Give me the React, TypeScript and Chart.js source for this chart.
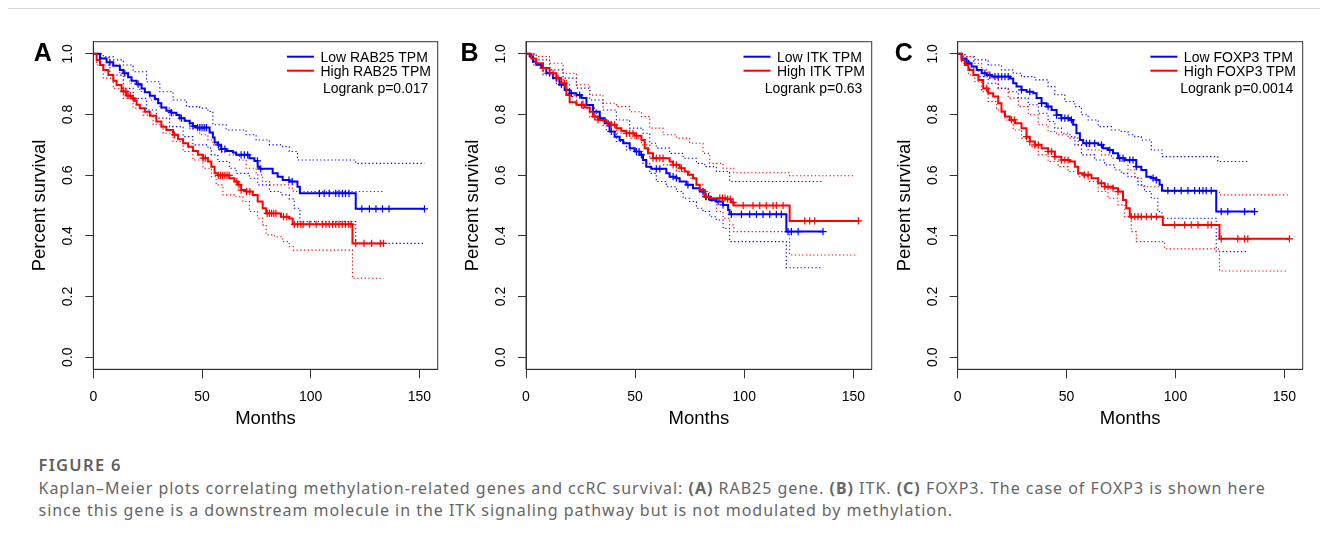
import React, { useEffect, useRef } from "react";
import { Chart, registerables } from "chart.js";
Chart.register(...registerables);

const FONT = "'Liberation Sans', Arial, Helvetica, sans-serif";
const BLUE = "#0000ff";
const RED = "#ff0000";

const X_TICKS = [0, 50, 100, 150];
const Y_TICKS = [0, 0.2, 0.4, 0.6, 0.8, 1.0];
const X_MIN = 0;
const X_MAX = 158.4;
const Y_MIN = -0.04;
const Y_MAX = 1.04;

// ---------- Panel A : RAB25 ----------
const A_LABELS = ["Low RAB25 TPM", "High RAB25 TPM"];
const A_PVALUE = "Logrank p=0.017";
const A_LOW = [[0,1],[3.07,0.985],[6.13,0.972],[9.18,0.961],[12.2,0.947],[13.8,0.936],[16,0.923],[17.6,0.911],[19.9,0.9],[22.2,0.886],[23.7,0.873],[26,0.862],[28.3,0.851],[29.8,0.837],[31.3,0.823],[33.6,0.812],[35.9,0.806],[38.2,0.798],[39.7,0.788],[42,0.779],[44.3,0.771],[45.8,0.762],[47.4,0.757],[53.5,0.741],[55,0.724],[55.8,0.708],[57.3,0.7],[58.8,0.686],[61.1,0.68],[64.2,0.675],[65.7,0.667],[71.8,0.656],[74.1,0.647],[75.6,0.628],[76.4,0.621],[82.5,0.606],[84.8,0.595],[87.1,0.584],[90.1,0.579],[93.9,0.562],[95,0.54],[120.7,0.489],[152.3,0.489]];
const A_LOW_UP = [[0,1],[4.6,0.99],[9.2,0.98],[13.8,0.963],[18.3,0.941],[24.5,0.908],[30.6,0.875],[36.7,0.848],[42.8,0.826],[48.9,0.821],[52.7,0.81],[55,0.766],[61.1,0.749],[70.3,0.733],[74.9,0.716],[81,0.7],[87.1,0.694],[90.1,0.678],[93.9,0.65],[120.7,0.639],[152.3,0.639]];
const A_LOW_LO = [[0,1],[3.07,0.963],[7.6,0.93],[13.8,0.886],[18.3,0.853],[24.5,0.815],[29,0.788],[35.1,0.76],[41.3,0.727],[45.8,0.7],[52.7,0.689],[54.3,0.667],[57.3,0.645],[62.6,0.623],[65.7,0.606],[71.8,0.59],[75.6,0.568],[81,0.546],[86.3,0.535],[90.1,0.522],[92.4,0.491],[95,0.447],[120.7,0.375],[152.3,0.375]];
const A_LOW_CENS = [7.6,14.5,20.6,35.9,40.5,45.8,48,49,50,51,52,57.5,59,60.5,68,69.5,71,75.5,77,90,91.5,104,106.2,108.5,111.5,113,114.6,116,117.6,123.5,127,130,133,136,152.3];
const A_HIGH = [[0,1],[1.54,0.98],[3.07,0.963],[4.6,0.947],[6.9,0.93],[9.18,0.911],[10.7,0.897],[13,0.876],[15.3,0.862],[17.6,0.853],[19.1,0.845],[19.9,0.832],[21.4,0.821],[23.7,0.809],[26,0.796],[29,0.777],[31.3,0.76],[33.6,0.749],[36.7,0.733],[39,0.718],[41.3,0.705],[43.6,0.694],[45.8,0.68],[48.1,0.667],[50.4,0.656],[52.7,0.645],[54.3,0.628],[55.8,0.606],[57.3,0.599],[62.6,0.59],[64.9,0.579],[66.5,0.568],[68,0.551],[70.3,0.546],[73.3,0.535],[75.6,0.513],[77.9,0.491],[79.5,0.474],[86.3,0.463],[90.1,0.457],[91.7,0.438],[119.2,0.375],[133.5,0.375]];
const A_HIGH_UP = [[0,1],[3.07,0.988],[7.65,0.963],[12.2,0.93],[16.8,0.903],[21.4,0.876],[26,0.848],[30.6,0.821],[35.1,0.798],[39.7,0.777],[44.3,0.755],[48.9,0.733],[52.7,0.716],[55,0.7],[58.1,0.678],[62.6,0.667],[67.2,0.65],[70.3,0.623],[74.9,0.601],[77.9,0.579],[81,0.568],[90.1,0.557],[92,0.546],[133.5,0.546]];
const A_HIGH_LO = [[0,1],[1.54,0.963],[4.6,0.92],[9.18,0.886],[13.8,0.853],[18.3,0.821],[22.9,0.798],[27.5,0.766],[32.1,0.738],[36.7,0.711],[41.3,0.678],[45.8,0.65],[50.4,0.623],[54.3,0.595],[56.5,0.568],[59.6,0.535],[65.7,0.529],[68.8,0.513],[71.8,0.48],[75.6,0.458],[77.9,0.436],[79.5,0.403],[83.3,0.397],[87.1,0.381],[90.1,0.364],[92,0.353],[119.2,0.26],[133.5,0.26]];
const A_HIGH_CENS = [14,15,16,17,18.4,37.4,50.5,51.5,57.5,58.5,59.5,60.5,61.5,62.5,66,67,68,70.5,72,80,81,82,83,84,87.5,89,92.5,94,95.5,96.5,99.5,102.5,105.5,107,108.5,110,111.5,113,114.5,116,117.5,118.5,120.7,124.5,128,132,133.5];

// ---------- Panel B : ITK ----------
const B_LABELS = ["Low ITK TPM", "High ITK TPM"];
const B_PVALUE = "Logrank p=0.63";
const B_LOW = [[0,1],[1.68,0.991],[3.2,0.975],[4.7,0.964],[7,0.953],[9.3,0.936],[12.4,0.92],[15.4,0.898],[17.7,0.881],[20,0.87],[23.1,0.864],[25.4,0.854],[27.7,0.831],[30.7,0.809],[33.8,0.788],[36.1,0.771],[38.3,0.744],[40.6,0.727],[42.9,0.716],[44.5,0.705],[47.5,0.689],[49.8,0.678],[52.1,0.667],[53.6,0.65],[55.1,0.628],[57.4,0.621],[64.3,0.606],[65.8,0.595],[68.9,0.59],[70.4,0.579],[73.5,0.568],[76.5,0.557],[79.6,0.546],[81.9,0.529],[84.2,0.518],[87.2,0.513],[90.3,0.502],[92.6,0.485],[93.3,0.471],[119.3,0.414],[136.1,0.414]];
const B_LOW_UP = [[0,1],[4.7,0.98],[10.8,0.947],[17,0.92],[23.1,0.887],[29.2,0.848],[35.3,0.815],[41.4,0.782],[47.5,0.755],[53.6,0.738],[56.7,0.705],[59.7,0.689],[65.8,0.672],[72,0.656],[78.1,0.639],[81.9,0.628],[87.2,0.612],[93.3,0.579],[136.1,0.579]];
const B_LOW_LO = [[0,1],[3.2,0.963],[7.8,0.93],[13.9,0.898],[20,0.859],[26.1,0.821],[32.2,0.782],[36.8,0.744],[41.4,0.711],[46,0.683],[50.6,0.667],[53.6,0.639],[56.7,0.606],[59.7,0.579],[64.3,0.562],[68.9,0.546],[72,0.524],[75,0.513],[78.1,0.491],[81.1,0.48],[84.2,0.463],[87.2,0.452],[90.3,0.425],[93.3,0.381],[119.3,0.295],[136.1,0.295]];
const B_LOW_CENS = [10.8,13.9,16.2,20.8,24.6,37.6,39.1,50.6,51.8,52.9,59.7,61.3,67.4,68.9,74.2,81.1,82.3,83.6,88,90.3,94.1,98.7,102.5,105.6,108.6,111.7,114.7,117,120.1,121.6,124.7,136.1];
const B_HIGH = [[0,1],[2.4,0.985],[4.7,0.969],[7.8,0.953],[10.8,0.936],[13.9,0.92],[16.2,0.903],[18.5,0.864],[20,0.84],[23.1,0.832],[26.9,0.823],[29.2,0.809],[30.7,0.793],[33,0.782],[36.8,0.774],[39.1,0.766],[41.4,0.755],[43.7,0.746],[46,0.738],[49.8,0.73],[52.9,0.716],[54.4,0.689],[55.9,0.672],[58.2,0.656],[65.8,0.645],[67.4,0.634],[70.4,0.623],[72.7,0.612],[74.2,0.601],[76.5,0.59],[78.1,0.568],[79.6,0.551],[81.9,0.529],[84.2,0.524],[91.8,0.521],[94.1,0.51],[95.2,0.5],[120.8,0.449],[152.3,0.449]];
const B_HIGH_UP = [[0,1],[4.7,0.991],[10.8,0.969],[17,0.936],[23.1,0.898],[29.2,0.864],[35.3,0.837],[41.4,0.826],[47.5,0.809],[52.9,0.793],[56.7,0.755],[62.8,0.733],[68.9,0.722],[75,0.705],[81.1,0.672],[84.2,0.639],[90.3,0.623],[95.2,0.608],[120.8,0.598],[151,0.598]];
const B_HIGH_LO = [[0,1],[3.2,0.969],[7.8,0.936],[12.4,0.914],[18.5,0.864],[23.1,0.831],[29.2,0.793],[35.3,0.765],[41.4,0.738],[47.5,0.722],[52.9,0.7],[56.7,0.656],[62.8,0.634],[68.9,0.612],[75,0.59],[78.1,0.568],[81.1,0.546],[84.2,0.513],[87.2,0.48],[90.3,0.458],[93.3,0.436],[95.2,0.414],[120.8,0.337],[151,0.337]];
const B_HIGH_CENS = [7.8,12.4,14.7,17.7,25.4,26.1,31.5,33,39.1,40.6,46,47.5,49,50.6,58.2,59.7,61.3,62.8,67.4,68.9,71.2,82.6,88.8,90,91.2,92.4,93.6,94.9,99.5,104,107.1,110.1,113.2,114.7,117.8,127.7,130,132.3,152.3];

// ---------- Panel C : FOXP3 ----------
const C_LABELS = ["Low FOXP3 TPM", "High FOXP3 TPM"];
const C_PVALUE = "Logrank p=0.0014";
const C_LOW = [[0,1],[1.8,0.985],[4.1,0.969],[6.4,0.958],[8.7,0.947],[11,0.936],[13.3,0.93],[15.6,0.925],[24,0.919],[25.5,0.903],[27,0.892],[29.3,0.881],[31.6,0.875],[34.7,0.87],[36.2,0.854],[38.5,0.837],[40.8,0.826],[43.1,0.815],[45.4,0.798],[47.6,0.788],[51.5,0.782],[53,0.766],[54.5,0.738],[56.1,0.716],[57.6,0.705],[64.5,0.7],[66.7,0.689],[69,0.683],[71.3,0.672],[73.6,0.656],[76.7,0.65],[82,0.628],[84.3,0.617],[86.6,0.595],[88.9,0.59],[91.2,0.584],[92.7,0.568],[93.8,0.549],[118.7,0.48],[136.3,0.48]];
const C_LOW_UP = [[0,1],[3.3,0.991],[7.9,0.98],[14,0.963],[20.1,0.947],[25.5,0.936],[29.3,0.925],[35.4,0.914],[41.5,0.892],[44.6,0.865],[49.2,0.843],[53.8,0.826],[56.8,0.799],[59.9,0.782],[64.5,0.76],[70.6,0.749],[75.1,0.744],[78.2,0.733],[81.3,0.727],[84.3,0.716],[88.9,0.683],[93.8,0.661],[119.4,0.645],[133.3,0.645]];
const C_LOW_LO = [[0,1],[2.6,0.975],[5.6,0.953],[9.5,0.925],[14,0.903],[18.6,0.886],[23.2,0.875],[27.8,0.854],[32.4,0.832],[37,0.804],[41.5,0.777],[44.6,0.755],[47.6,0.738],[51.5,0.727],[53.8,0.7],[56.8,0.667],[62.9,0.65],[67.5,0.634],[72.1,0.617],[75.1,0.606],[78.2,0.595],[82.8,0.568],[85.8,0.546],[88.9,0.524],[91.9,0.48],[93.8,0.458],[118.7,0.348],[133.3,0.348]];
const C_LOW_CENS = [4.9,12.5,14.8,17.1,18.6,20.2,21.7,23.2,29.3,33.1,38.5,41.5,45.4,47.6,49.2,50.7,52.2,59.1,60.6,62.9,66,69.8,74.4,75.9,79,80.5,82,89.7,91.2,96.5,99.6,102.6,105.7,108.8,111,112.6,114.1,116.4,121,124,131.7,136.3];
const C_HIGH = [[0,1],[1.8,0.98],[3.3,0.963],[4.9,0.947],[7.2,0.93],[9.5,0.914],[11.7,0.886],[14,0.87],[16.3,0.859],[18.6,0.837],[20.1,0.809],[21.7,0.793],[23.9,0.782],[26.3,0.771],[29.3,0.755],[31.6,0.727],[33.1,0.711],[35.4,0.7],[38.5,0.689],[41.5,0.678],[44.6,0.661],[47.6,0.65],[51.5,0.645],[53.8,0.628],[55.3,0.606],[57.6,0.601],[61.4,0.59],[64.5,0.573],[67.5,0.562],[71.3,0.557],[73.6,0.546],[75.9,0.518],[77.4,0.491],[79,0.463],[94.2,0.436],[120.2,0.39],[152.3,0.39]];
const C_HIGH_UP = [[0,1],[3.3,0.991],[7.2,0.969],[11,0.947],[14,0.92],[18.6,0.887],[23.2,0.854],[27.8,0.826],[32.4,0.799],[37,0.766],[41.5,0.744],[45.4,0.733],[50.7,0.722],[55.3,0.7],[59.9,0.683],[66,0.667],[70.6,0.656],[75.1,0.645],[78.2,0.617],[81.3,0.59],[84.3,0.562],[94.2,0.546],[120.2,0.535],[151.5,0.535]];
const C_HIGH_LO = [[0,1],[1.8,0.969],[4.9,0.93],[7.9,0.908],[11,0.875],[14,0.843],[17.9,0.815],[21.7,0.782],[25.5,0.749],[29.3,0.722],[33.1,0.694],[37,0.667],[41.5,0.645],[46.1,0.628],[50.7,0.612],[55.3,0.595],[59.9,0.579],[64.5,0.546],[69,0.524],[73.6,0.502],[76.7,0.463],[79.7,0.414],[82,0.381],[95,0.357],[120.2,0.284],[151.5,0.284]];
const C_HIGH_CENS = [13.3,24.7,26,31.6,33.1,35.4,37,41.5,43.1,44.6,47.6,49.2,50.7,58.3,59.9,66,67.5,69,71.3,73.6,79.7,81.3,82.8,84.3,86.6,88.9,91.2,99.6,104.2,107.2,110.3,114.9,116.4,121,128.6,131.7,133.2,152.3];

// ---------- layout (page pixels) ----------
const PANELS = [
  { letter: "A", chartLeft: 93.3, chartRight: 437.7, letterX: 42.8, labels: A_LABELS, pvalue: A_PVALUE,
    low: A_LOW, lowUp: A_LOW_UP, lowLo: A_LOW_LO, lowCens: A_LOW_CENS,
    high: A_HIGH, highUp: A_HIGH_UP, highLo: A_HIGH_LO, highCens: A_HIGH_CENS },
  { letter: "B", chartLeft: 526, chartRight: 871.7, letterX: 469.5, labels: B_LABELS, pvalue: B_PVALUE,
    low: B_LOW, lowUp: B_LOW_UP, lowLo: B_LOW_LO, lowCens: B_LOW_CENS,
    high: B_HIGH, highUp: B_HIGH_UP, highLo: B_HIGH_LO, highCens: B_HIGH_CENS },
  { letter: "C", chartLeft: 957.7, chartRight: 1302.7, letterX: 903.8, labels: C_LABELS, pvalue: C_PVALUE,
    low: C_LOW, lowUp: C_LOW_UP, lowLo: C_LOW_LO, lowCens: C_LOW_CENS,
    high: C_HIGH, highUp: C_HIGH_UP, highLo: C_HIGH_LO, highCens: C_HIGH_CENS },
];

const CANVAS_TOP = 10;
const CANVAS_W = 430;
const CANVAS_H = 420;
const CHART_TOP = 41.7;
const CHART_BOTTOM = 369.3;
const Y_AXIS_W = 70;

const toPts = (pairs: number[][]) => pairs.map(([x, y]) => ({ x, y }));
const survAt = (pairs: number[][], t: number) => {
  let s = pairs[0][1];
  for (const [x, y] of pairs) {
    if (x <= t + 1e-9) s = y;
    else break;
  }
  return s;
};
const censPts = (pairs: number[][], times: number[]) => times.map((t) => ({ x: t, y: survAt(pairs, t) }));

function curveDs(pairs: number[][], color: string) {
  return { data: toPts(pairs), borderColor: color, borderWidth: 2, pointRadius: 0, stepped: true, fill: false };
}
function ciDs(pairs: number[][], color: string) {
  return { data: toPts(pairs), borderColor: color, borderWidth: 1.1, borderDash: [1.3, 2.4], pointRadius: 0, stepped: true, fill: false };
}
function censDs(pairs: number[][], times: number[], color: string) {
  return { data: censPts(pairs, times), showLine: false, pointStyle: "cross", pointRadius: 3.6, pointBorderWidth: 1.2, pointBorderColor: color, pointBackgroundColor: color, borderColor: color };
}

function Panel({ p }: { p: any }) {
  const ref = useRef<HTMLCanvasElement>(null);
  const canvasLeft = Math.floor(p.chartLeft - Y_AXIS_W - 2);
  const padLeft = p.chartLeft - Y_AXIS_W - canvasLeft;
  const padRight = canvasLeft + CANVAS_W - p.chartRight;
  const padTop = CHART_TOP - CANVAS_TOP;
  const xAxisH = CANVAS_H + CANVAS_TOP - CHART_BOTTOM;

  useEffect(() => {
    if (!ref.current) return;
    const decor = {
      id: "decor" + p.letter,
      afterDraw(chart: any) {
        const { ctx, chartArea: a } = chart;
        ctx.save();
        ctx.strokeStyle = "#333";
        ctx.lineWidth = 1;
        ctx.strokeRect(a.left, a.top, a.right - a.left, a.bottom - a.top);
        // legend
        ctx.font = `14px ${FONT}`;
        const textRight = a.right - 6.8;
        const widest = Math.max(...p.labels.map((l: string) => ctx.measureText(l).width));
        const textLeft = textRight - widest;
        const colors = [BLUE, RED];
        p.labels.forEach((l: string, i: number) => {
          const cy = a.top + 15 + i * 14;
          ctx.strokeStyle = colors[i];
          ctx.lineWidth = 2;
          ctx.beginPath();
          ctx.moveTo(textLeft - 33.5, cy);
          ctx.lineTo(textLeft - 6.5, cy);
          ctx.stroke();
          ctx.fillStyle = "#000";
          ctx.textAlign = "left";
          ctx.textBaseline = "alphabetic";
          ctx.fillText(l, textLeft, cy + 5);
        });
        ctx.textAlign = "right";
        ctx.fillText(p.pvalue, textRight - 2.5, a.top + 46.6 + 5);
        // panel letter
        ctx.font = `bold 25px ${FONT}`;
        ctx.textAlign = "center";
        ctx.fillText(p.letter, p.letterX - canvasLeft, 51.7 - CANVAS_TOP + 9);
        ctx.restore();
      },
    };
    const chart = new Chart(ref.current, {
      type: "line",
      data: {
        datasets: [
          censDs(p.high, p.highCens, RED),
          curveDs(p.high, RED),
          censDs(p.low, p.lowCens, BLUE),
          curveDs(p.low, BLUE),
          ciDs(p.highUp, RED),
          ciDs(p.highLo, RED),
          ciDs(p.lowUp, BLUE),
          ciDs(p.lowLo, BLUE),
        ] as any,
      },
      options: {
        animation: false,
        responsive: false,
        events: [],
        layout: { padding: { left: padLeft, right: padRight, top: padTop, bottom: 0 } },
        plugins: { legend: { display: false }, tooltip: { enabled: false }, title: { display: false } },
        scales: {
          x: {
            type: "linear",
            min: X_MIN,
            max: X_MAX,
            afterBuildTicks: (s: any) => { s.ticks = X_TICKS.map((v) => ({ value: v })); },
            afterFit: (s: any) => { s.height = xAxisH; },
            grid: { display: true, drawOnChartArea: false, drawTicks: true, tickLength: 9, tickColor: "#333", tickWidth: 1 },
            border: { display: true, color: "#333", width: 1 },
            ticks: { font: { family: FONT, size: 14 }, color: "#000", padding: 10, maxRotation: 0, autoSkip: false, callback: (v: any) => String(v) },
            title: { display: true, text: "Months", font: { family: FONT, size: 18.5 }, color: "#000", padding: 0 },
          },
          y: {
            type: "linear",
            min: Y_MIN,
            max: Y_MAX,
            afterBuildTicks: (s: any) => { s.ticks = Y_TICKS.map((v) => ({ value: v })); },
            afterFit: (s: any) => { s.width = Y_AXIS_W; },
            grid: { display: true, drawOnChartArea: false, drawTicks: true, tickLength: 8, tickColor: "#333", tickWidth: 1 },
            border: { display: true, color: "#333", width: 1 },
            ticks: { font: { family: FONT, size: 14 }, color: "#000", padding: 7.3, minRotation: 90, maxRotation: 90, crossAlign: "center", autoSkip: false, callback: (v: any) => Number(v).toFixed(1) },
            title: { display: true, text: "Percent survival", font: { family: FONT, size: 18.5 }, color: "#000", padding: { top: 5.9, bottom: 0 } },
          },
        },
      } as any,
      plugins: [decor],
    });
    return () => chart.destroy();
  }, []);

  return (
    <canvas
      ref={ref}
      width={CANVAS_W}
      height={CANVAS_H}
      style={{ position: "absolute", left: canvasLeft - 8, top: CANVAS_TOP - 8, width: CANVAS_W, height: CANVAS_H }}
    />
  );
}

export default function App() {
  const capFont = "'Noto Sans', 'Open Sans', sans-serif";
  return (
    <div style={{ position: "relative", width: 1312, height: 527 }}>
      <div style={{ position: "absolute", left: -1, top: 0, width: 1330, height: 540, borderLeft: "1px solid #d4d4d4", borderTop: "1px solid #d4d4d4" }} />
      {PANELS.map((p) => <Panel key={p.letter} p={p} />)}
      <div style={{ position: "absolute", left: 30.5, top: 446, fontFamily: capFont, fontSize: 16.5, lineHeight: "21px", fontWeight: 600, letterSpacing: "1.3px", color: "#5f5f5f", whiteSpace: "nowrap" }}>
        FIGURE 6
      </div>
      <div style={{ position: "absolute", left: 30.5, top: 470.2, fontFamily: capFont, fontSize: 16, lineHeight: "21.5px", letterSpacing: "0.98px", color: "#666", whiteSpace: "nowrap" }}>
        Kaplan–Meier plots correlating methylation-related genes and ccRC survival: <b>(A)</b> RAB25 gene. <b>(B)</b> ITK. <b>(C)</b> FOXP3. The case of FOXP3 is shown here
        <br />
        since this gene is a downstream molecule in the ITK signaling pathway but is not modulated by methylation.
      </div>
    </div>
  );
}
